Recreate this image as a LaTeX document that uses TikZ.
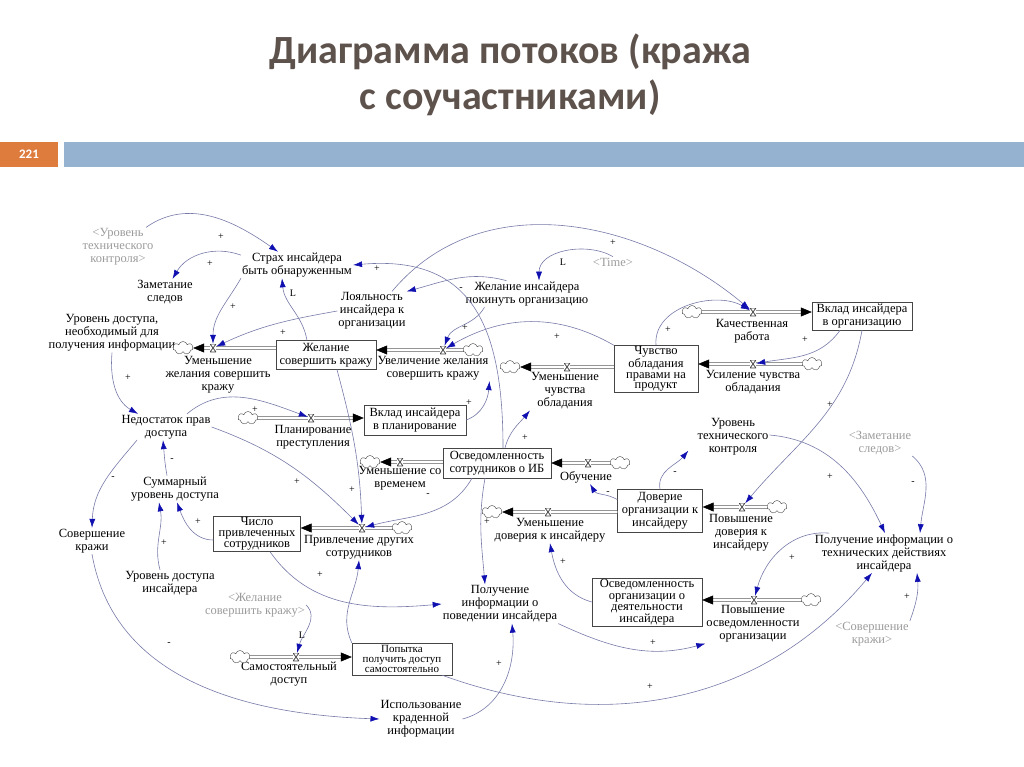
\documentclass[tikz,border=0pt]{standalone}
\usepackage{fontspec}
\setmainfont{Liberation Serif}
\newfontfamily\titlefont{Carlito}
\usetikzlibrary{positioning,arrows.meta,shapes.symbols}
\definecolor{titlebrown}{RGB}{94,82,76}
\definecolor{slideorange}{RGB}{222,124,62}
\definecolor{slideblue}{RGB}{149,179,208}
\definecolor{linkgray}{RGB}{118,122,168}
\definecolor{tipblue}{RGB}{16,16,176}
\definecolor{ghostgray}{RGB}{155,155,155}
\definecolor{boxgray}{RGB}{70,70,70}
\newcommand{\diagfont}{\fontsize{12.5}{13}\selectfont}
\tikzset{
  varnode/.style={align=center, inner sep=1pt, font=\diagfont},
  ghostnode/.style={varnode, text=ghostgray},
  stocknode/.style={draw=boxgray, fill=white, align=center, inner sep=1pt, font=\diagfont},
  cloudnode/.style={cloud, cloud puffs=7, draw=boxgray, fill=white, minimum width=20pt, minimum height=13pt, inner sep=0pt},
  valvenode/.style={inner sep=0pt, minimum width=6pt, minimum height=8pt, fill=white,
    path picture={\draw[boxgray, line width=0.8pt] (path picture bounding box.south west) -- (path picture bounding box.south east) -- (path picture bounding box.north west) -- (path picture bounding box.north east) -- cycle;}},
  pipe/.style={draw=boxgray, double=white, double distance=2.2pt, line width=0.5pt, -{Triangle[length=11pt,width=9pt,color=black]}},
  link/.style={draw=linkgray, line width=0.6pt, -{Latex[length=9pt,width=6pt,color=tipblue]}},
  polsign/.style={font=\fontsize{10}{10}\selectfont, inner sep=0pt}
}

\begin{document}
\begin{tikzpicture}[x=1pt, y=1pt]
  \useasboundingbox (0,0) rectangle (1024,-767);
  % slide header
  \node[font=\titlefont\bfseries\fontsize{40}{46}\selectfont, text=titlebrown, align=center] (title) at (510,-75) {Диаграмма потоков (кража\\с соучастниками)};
  \node[fill=slideorange, minimum width=58pt, minimum height=25pt, inner sep=0pt, text=white, font=\titlefont\bfseries\fontsize{13}{13}\selectfont] (pagenum) at (29,-154.5) {221};
  \node[fill=slideblue, minimum width=960pt, minimum height=25pt, inner sep=0pt] (bar) at (544,-154.5) {};

  % variables
  \node[ghostnode] (gUrTech) at (118,-247) {<Уровень\\технического\\контроля>};
  \node[varnode] (strah) at (297,-265) {Страх инсайдера\\быть обнаруженным};
  \node[varnode] (zamet) at (165,-292) {Заметание\\следов};
  \node[varnode] (urNeed) at (112,-333) {Уровень доступа,\\необходимый для\\получения информации};
  \node[varnode] (loyal) at (372,-311) {Лояльность\\инсайдера к\\организации};
  \node[varnode] (leave) at (527,-294) {Желание инсайдера\\покинуть организацию};
  \node[ghostnode] (timeG) at (613,-262) {<Time>};
  \node[varnode] (lack) at (166,-427) {Недостаток прав\\доступа};
  \node[varnode] (urTech) at (733,-437) {Уровень\\технического\\контроля};
  \node[ghostnode] (gZamet) at (880,-443) {<Заметание\\следов>};
  \node[varnode] (sumAcc) at (175,-489) {Суммарный\\уровень доступа};
  \node[varnode] (theft) at (92,-541) {Совершение\\кражи};
  \node[varnode] (techInfo) at (884,-553) {Получение информации о\\технических действиях\\инсайдера};
  \node[varnode] (urIns) at (170,-583) {Уровень доступа\\инсайдера};
  \node[ghostnode] (gWish) at (255,-605) {<Желание\\совершить кражу>};
  \node[varnode] (behInfo) at (500,-604) {Получение\\информации о\\поведении инсайдера};
  \node[ghostnode] (gTheft) at (872,-634) {<Совершение\\кражи>};
  \node[varnode] (useInfo) at (421,-719) {Использование\\краденной\\информации};

  % flow labels
  \node[varnode] (lblRedWish) at (218,-375) {Уменьшение\\желания совершить\\кражу};
  \node[varnode] (lblIncWish) at (433,-368) {Увеличение желания\\совершить кражу};
  \node[varnode] (lblRedOwn) at (565,-391) {Уменьшение\\чувства\\обладания};
  \node[varnode] (lblIncOwn) at (753,-382) {Усиление чувства\\обладания};
  \node[varnode] (lblWork) at (752,-331) {Качественная\\работа};
  \node[varnode] (lblPlan) at (313,-437) {Планирование\\преступления};
  \node[varnode] (lblForget) at (400,-478) {Уменьшение со\\временем};
  \node[varnode] (lblTrain) at (586,-477) {Обучение};
  \node[varnode] (lblRecruit) at (359,-547) {Привлечение других\\сотрудников};
  \node[varnode] (lblRedTrust) at (550,-530) {Уменьшение\\доверия к инсайдеру};
  \node[varnode] (lblIncTrust) at (741,-533) {Повышение\\доверия к\\инсайдеру};
  \node[varnode] (lblOrgAware) at (753,-624) {Повышение\\осведомленности\\организации};
  \node[varnode] (lblSelf) at (289,-674) {Самостоятельный\\доступ};

  % stocks
  \node[stocknode, minimum width=100pt, minimum height=29pt] (wish) at (326,-355) {Желание\\совершить кражу};
  \node[stocknode, minimum width=84pt, minimum height=44pt, font=\fontsize{12.5}{10.8}\selectfont] (own) at (656,-369) {Чувство\\обладания\\правами на\\продукт};
  \node[stocknode, minimum width=100pt, minimum height=28pt] (contrib) at (862,-316) {Вклад инсайдера\\в организацию};
  \node[stocknode, minimum width=102pt, minimum height=30pt] (plan) at (415,-420) {Вклад инсайдера\\в планирование};
  \node[stocknode, minimum width=108pt, minimum height=30pt] (aware) at (497,-463) {Осведомленность\\сотрудников о ИБ};
  \node[stocknode, minimum width=87pt, minimum height=35pt, font=\fontsize{12.5}{11}\selectfont] (recruited) at (257,-534) {Число\\привлеченных\\сотрудников};
  \node[stocknode, minimum width=85pt, minimum height=43pt] (trust) at (660,-511) {Доверие\\организации к\\инсайдеру};
  \node[stocknode, minimum width=110pt, minimum height=48pt, font=\fontsize{12.5}{11.5}\selectfont] (orgAware) at (647,-602) {Осведомленность\\организации о\\деятельности\\инсайдера};
  \node[stocknode, minimum width=100pt, minimum height=32pt, font=\fontsize{11}{10.2}\selectfont] (attempt) at (402,-659) {Попытка\\получить доступ\\самостоятельно};

  % clouds
  \node[cloudnode] (cW1) at (183,-348) {};
  \node[cloudnode] (cW2) at (473,-350) {};
  \node[cloudnode] (cO1) at (510,-367) {};
  \node[cloudnode] (cO2) at (812,-364) {};
  \node[cloudnode] (cC) at (692,-312) {};
  \node[cloudnode] (cP) at (248,-418) {};
  \node[cloudnode] (cA1) at (370,-462) {};
  \node[cloudnode] (cA2) at (620,-463) {};
  \node[cloudnode] (cR) at (402,-528) {};
  \node[cloudnode] (cT1) at (492,-512) {};
  \node[cloudnode] (cT2) at (777,-507) {};
  \node[cloudnode] (cOA) at (811,-600) {};
  \node[cloudnode] (cS) at (240,-657) {};

  % pipes
  \draw[pipe] (wish.west |- cW1) -- (cW1);
  \draw[pipe] (cW2) -- (wish.east |- cW2);
  \draw[pipe] (own.west |- cO1) -- (cO1);
  \draw[pipe] (cO2) -- (own.east |- cO2);
  \draw[pipe] (cC) -- (contrib.west |- cC);
  \draw[pipe] (cP) -- (plan.west |- cP);
  \draw[pipe] (aware.west |- cA1) -- (cA1);
  \draw[pipe] (cA2) -- (aware.east |- cA2);
  \draw[pipe] (cR) -- (recruited.east |- cR);
  \draw[pipe] (trust.west |- cT1) -- (cT1);
  \draw[pipe] (cT2) -- (trust.east |- cT2);
  \draw[pipe] (cOA) -- (orgAware.east |- cOA);
  \draw[pipe] (cS) -- (attempt.west |- cS);

  % valves
  \node[valvenode] (vRedWish) at (213,-348) {};
  \node[valvenode] (vIncWish) at (443,-350) {};
  \node[valvenode] (vRedOwn) at (567,-367) {};
  \node[valvenode] (vIncOwn) at (753,-364) {};
  \node[valvenode] (vWork) at (753,-312) {};
  \node[valvenode] (vPlan) at (311,-418) {};
  \node[valvenode] (vForget) at (400,-462) {};
  \node[valvenode] (vTrain) at (588,-463) {};
  \node[valvenode] (vRecruit) at (362,-528) {};
  \node[valvenode] (vRedTrust) at (548,-512) {};
  \node[valvenode] (vIncTrust) at (742,-507) {};
  \node[valvenode] (vOrgAware) at (754,-600) {};
  \node[valvenode] (vSelf) at (296,-657) {};

  % causal links
  \draw[link] (gUrTech) to[out=35,in=145] (strah);
  \draw[link] (strah.170) to[out=160,in=60] (zamet);
  \draw[link] (strah.south west) to[out=240,in=90] (vRedWish);
  \draw[link] (loyal.west) to[out=190,in=25] (vRedWish);
  \draw[link] ([xshift=-19pt]wish.north) to[out=100,in=-85] ([xshift=-15pt]strah.south);
  \draw[link] ([xshift=11pt]wish.south) to[out=-75,in=92] (vRecruit);
  \draw[link] ([xshift=-25pt]aware.south) to[out=-120,in=15] (vRecruit);
  \draw[link] (lack.east) to[out=-20,in=135] (vRecruit);
  \draw[link] ([xshift=21pt]lack.north) to[out=40,in=160] (vPlan);
  \draw[link] (plan.east) to[out=20,in=-95] (lblIncWish.south east);
  \draw[link] ([xshift=8pt]aware.north) to[out=75,in=-130] (lblRedOwn.south west);
  \draw[link] (trust.165) to[out=150,in=-60] (lblTrain);
  \draw[link] (trust.north) to[out=100,in=-130] ([xshift=-8pt,yshift=6pt]urTech.south west);
  \draw[link] ([yshift=2pt]urTech.east) to[out=-5,in=115] ([xshift=1pt]techInfo.north);
  \draw[link] (gZamet.south east) to[out=-40,in=85] ([xshift=36pt]techInfo.north);
  \draw[link] (contrib.south) to[out=-100,in=50] (vIncTrust);
  \draw[link] ([xshift=-22pt]contrib.south) to[out=-125,in=10] (vIncOwn);
  \draw[link] (own.north) to[out=95,in=150] (vWork);
  \draw[link] ([xshift=20pt]loyal.north) to[out=50,in=140] (vWork);
  \draw[link] (timeG.north) to[out=150,in=90] ([xshift=12pt]leave.north);
  \draw[link] (leave.147) to[out=165,in=15] (loyal.north east);
  \draw[link] ([xshift=20pt]leave.south west) to[out=-120,in=70] (vIncWish);
  \draw[link] (own.north west) to[out=150,in=30] (vIncWish);
  \draw[link] ([xshift=6pt]aware.north) to[out=90,in=5,looseness=1.3] (strah.east);
  \draw[link] ([xshift=-12pt]aware.south) to[out=-100,in=95] ([xshift=-15pt]behInfo.north);
  \draw[link] (urNeed.south) to[out=-95,in=150] ([xshift=-28pt]lack.north);
  \draw[link] ([xshift=-8pt]sumAcc.north) to[out=100,in=-85] ([xshift=-3pt]lack.south);
  \draw[link] ([xshift=-29pt]lack.south) to[out=-130,in=88] (theft.north);
  \draw[link] ([yshift=-6pt]recruited.west) to[out=180,in=-70] ([xshift=2pt]sumAcc.south);
  \draw[link] ([xshift=-10pt]urIns.north) to[out=105,in=-80] ([xshift=-16pt]sumAcc.south);
  \draw[link] (theft.south) to[out=-80,in=178] (useInfo.west);
  \draw[link] (behInfo.south east) to[out=-25,in=195] (lblOrgAware.south west);
  \draw[link] ([xshift=-10pt]attempt.south east) to[out=-20,in=-130] ([xshift=-12pt]techInfo.south);
  \draw[link] (useInfo.east) to[out=15,in=-85] ([xshift=12pt]behInfo.south);
  \draw[link] (orgAware.west) to[out=165,in=-80] (lblRedTrust.south);
  \draw[link] (techInfo.160) to[out=175,in=75] (vOrgAware);
  \draw[link] (gTheft.north east) to[out=70,in=-85] ([xshift=33pt]techInfo.south);
  \draw[link] (gWish.east) to[out=-45,in=75] (vSelf);
  \draw[link] ([xshift=13pt]recruited.south) to[out=-55,in=185] (behInfo.west);
  \draw[link] (attempt.north west) to[out=115,in=-95] (lblRecruit.south);

  % polarity marks
  \node[polsign] (s1) at (221,-237) {+};
  \node[polsign] (s2) at (210,-264) {+};
  \node[polsign] (s3) at (233,-307) {+};
  \node[polsign] (s4) at (283,-333) {+};
  \node[polsign] (s5) at (293,-293) {L};
  \node[polsign] (s6) at (352,-490) {+};
  \node[polsign] (s7) at (428,-495) {-};
  \node[polsign] (s8) at (297,-482) {+};
  \node[polsign] (s9) at (255,-410) {+};
  \node[polsign] (s10) at (469,-403) {+};
  \node[polsign] (s11) at (525,-438) {+};
  \node[polsign] (s12) at (608,-493) {-};
  \node[polsign] (s13) at (675,-473) {-};
  \node[polsign] (s14) at (830,-477) {+};
  \node[polsign] (s15) at (913,-483) {-};
  \node[polsign] (s16) at (830,-405) {+};
  \node[polsign] (s17) at (805,-340) {+};
  \node[polsign] (s18) at (668,-330) {+};
  \node[polsign] (s19) at (613,-243) {+};
  \node[polsign] (s20) at (563,-262) {L};
  \node[polsign] (s21) at (461,-289) {-};
  \node[polsign] (s22) at (465,-328) {+};
  \node[polsign] (s23) at (557,-337) {+};
  \node[polsign] (s24) at (377,-269) {+};
  \node[polsign] (s25) at (487,-522) {+};
  \node[polsign] (s26) at (128,-378) {+};
  \node[polsign] (s27) at (172,-460) {-};
  \node[polsign] (s28) at (113,-478) {-};
  \node[polsign] (s29) at (198,-522) {+};
  \node[polsign] (s30) at (164,-543) {+};
  \node[polsign] (s31) at (169,-644) {-};
  \node[polsign] (s32) at (653,-643) {+};
  \node[polsign] (s33) at (650,-687) {+};
  \node[polsign] (s34) at (499,-664) {+};
  \node[polsign] (s35) at (563,-562) {+};
  \node[polsign] (s36) at (792,-558) {+};
  \node[polsign] (s37) at (907,-597) {+};
  \node[polsign] (s38) at (302,-635) {L};
  \node[polsign] (s39) at (320,-575) {+};
\end{tikzpicture}
\end{document}
